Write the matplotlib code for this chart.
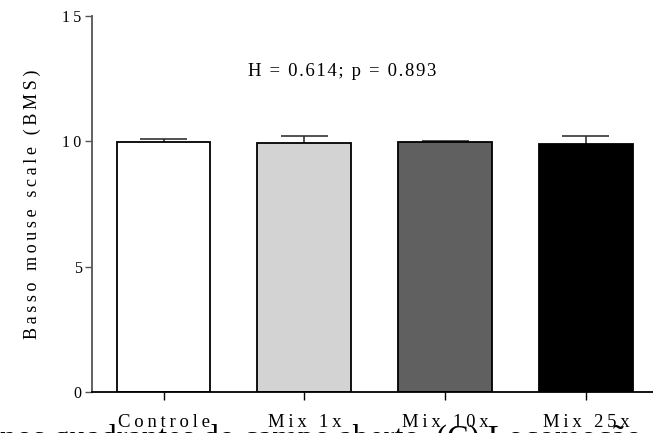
import matplotlib
matplotlib.use("Agg")
import matplotlib.pyplot as plt

# data
groups = ["Controle", "Mix 1x", "Mix 10x", "Mix 25x"]
means = [9.96, 9.92, 9.99, 9.91]
errs = [0.15, 0.30, 0.04, 0.30]
colors = ["white", "#d3d3d3", "#606060", "black"]
yticks = [0, 5, 10, 15]
stat_text = "H = 0.614; p = 0.893"
caption = "nos quadrantes do campo aberto. (C) Locomoção dos"

SERIF = "Liberation Serif"


def spaced(s, sp="\u2009"):
    # letter tracking, as in the original pdf
    return sp.join(s)


fig = plt.figure(figsize=(6.53, 4.33), dpi=100)
ax = fig.add_axes([92 / 653, 41 / 433, 561 / 653, 376 / 433])

x = list(range(len(groups)))
bw = 0.667
ax.bar(x, means, width=bw, color=colors, edgecolor="black", linewidth=1.3, zorder=2)

# upward-only error bars
tops = [m + e for m, e in zip(means, errs)]
ax.vlines(x, means, tops, color="#333333", linewidth=1.2, zorder=1)
ax.hlines(tops, [i - bw / 4 for i in x], [i + bw / 4 for i in x],
          color="#333333", linewidth=1.2, zorder=1)

ax.set_xlim(-0.508, 3.476)
ax.set_ylim(0, 15)
ax.set_yticks(yticks)
ax.set_yticklabels([spaced(str(t)) for t in yticks], family=SERIF, fontsize=11.5)
ax.set_xticks(x)
ax.set_xticklabels([spaced(g) for g in groups], family=SERIF, fontsize=13.5)
ax.tick_params(axis="y", length=5, width=1, pad=2.5, color="#555555")
ax.tick_params(axis="x", length=5.5, width=1, pad=10)

ax.set_ylabel(spaced("Basso mouse scale (BMS)"), family=SERIF, fontsize=13, labelpad=15)

for s in ["top", "right"]:
    ax.spines[s].set_visible(False)
ax.spines["left"].set_color("#555555")
ax.spines["left"].set_linewidth(1.3)
ax.spines["bottom"].set_linewidth(1.3)

ax.text(1.267, 12.77, spaced(stat_text, "\u200a"), family=SERIF, fontsize=13.5,
        ha="center", va="center")

# caption of the surrounding document, cut off at the bottom edge
fig.text(0.0, -15 / 433, caption, family=SERIF, fontsize=23.5, ha="left", va="baseline")

fig.savefig("out.png", dpi=100)
